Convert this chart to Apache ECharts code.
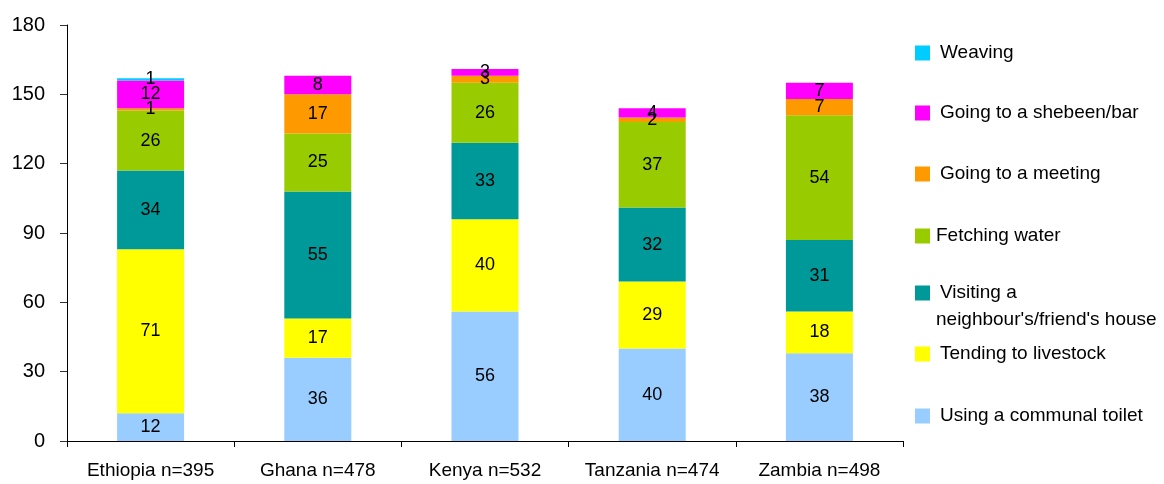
<!DOCTYPE html>
<html>
<head>
<meta charset="utf-8">
<script src="https://cdn.jsdelivr.net/npm/echarts@6/dist/echarts.min.js"></script>
<style>
  html, body { margin: 0; padding: 0; background: #fff; }
  #chart { width: 1164px; height: 484px; }
</style>
</head>
<body>
<div id="chart"></div>
<script>
const categories = ['Ethiopia n=395', 'Ghana n=478', 'Kenya n=532', 'Tanzania n=474', 'Zambia n=498'];
const yTicks = [0, 30, 60, 90, 120, 150, 180];

// stacked bottom to top
const communalToilet = [12, 36, 56, 40, 38];
const tendingLivestock = [71, 17, 40, 29, 18];
const visitingNeighbour = [34, 55, 33, 32, 31];
const fetchingWater = [26, 25, 26, 37, 54];
const goingMeeting = [1, 17, 3, 2, 7];
const goingShebeen = [12, 8, 3, 4, 7];
const weaving = [1, 0, 0, 0, 0];

const VISITING = "Visiting a neighbour's/friend's house";

const seriesDefs = [
  { name: 'Using a communal toilet', data: communalToilet, color: '#99CCFF', centerY: 416 },
  { name: 'Tending to livestock', data: tendingLivestock, color: '#FFFF00', centerY: 354 },
  { name: VISITING, data: visitingNeighbour, color: '#009999', centerY: 293 },
  { name: 'Fetching water', data: fetchingWater, color: '#99CC00', centerY: 236, textShift: 1 },
  { name: 'Going to a meeting', data: goingMeeting, color: '#FF9900', centerY: 174 },
  { name: 'Going to a shebeen/bar', data: goingShebeen, color: '#FF00FF', centerY: 113 },
  { name: 'Weaving', data: weaving, color: '#00CCFF', centerY: 53 }
];

const FONT = 'Liberation Sans, Arial, sans-serif';
const LEGEND_FONT = 19;
const LEGEND_LINE = 24;

const chart = echarts.init(document.getElementById('chart'));

// one legend block per entry so the spacing can follow the layout on the right
const legends = seriesDefs.map(s => ({
  data: [s.name],
  left: 910,
  top: s.centerY - LEGEND_LINE / 2 - 5,
  orient: 'vertical',
  icon: 'rect',
  itemWidth: 15,
  itemHeight: 15,
  selectedMode: false,
  formatter: n => (n === VISITING ? 'Visiting a' : n),
  textStyle: {
    fontFamily: FONT,
    fontSize: LEGEND_FONT,
    color: '#000',
    lineHeight: LEGEND_LINE,
    padding: [0, 0, 0, s.textShift != null ? s.textShift : 5]
  }
}));

chart.setOption({
  animation: false,
  backgroundColor: '#fff',
  textStyle: { fontFamily: FONT },
  grid: { left: 67, right: 261, top: 25, bottom: 43, containLabel: false },
  legend: legends,
  graphic: [{
    type: 'text',
    left: 936,
    top: 320 - LEGEND_LINE / 2,
    style: {
      text: "neighbour's/friend's house",
      fontFamily: FONT,
      fontSize: LEGEND_FONT,
      lineHeight: LEGEND_LINE,
      fill: '#000'
    }
  }],
  xAxis: {
    type: 'category',
    data: categories,
    axisLine: { lineStyle: { color: '#000', width: 1 } },
    axisTick: { show: true, interval: 0, length: 6, lineStyle: { color: '#000' } },
    axisLabel: { interval: 0, hideOverlap: false, fontFamily: FONT, fontSize: 19, color: '#000', margin: 20 }
  },
  yAxis: {
    type: 'value',
    min: yTicks[0],
    max: yTicks[yTicks.length - 1],
    interval: 30,
    axisLine: { show: true, lineStyle: { color: '#000', width: 1 } },
    axisTick: { show: true, length: 7, lineStyle: { color: '#333' } },
    splitLine: { show: false },
    axisLabel: { fontFamily: FONT, fontSize: 20, color: '#000', margin: 22 }
  },
  series: seriesDefs.map(s => ({
    name: s.name,
    type: 'bar',
    stack: 'total',
    barWidth: 67,
    data: s.data,
    itemStyle: { color: s.color },
    label: {
      show: true,
      position: 'inside',
      fontFamily: FONT,
      fontSize: 18,
      color: '#000',
      formatter: p => (p.value === 0 ? '' : String(p.value))
    },
    labelLayout: { hideOverlap: false }
  }))
});
</script>
</body>
</html>
